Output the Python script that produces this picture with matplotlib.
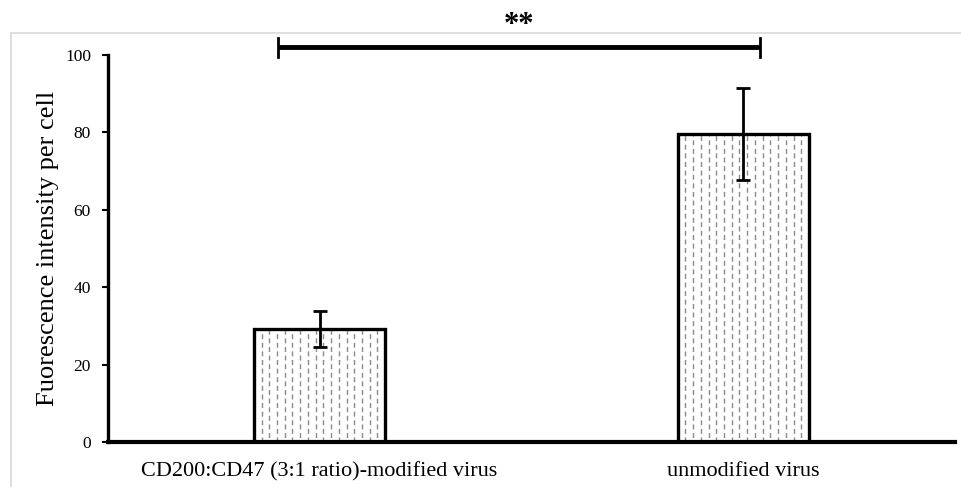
import numpy as np
import matplotlib.pyplot as plt
from matplotlib.lines import Line2D

# data
groups = ["CD200:CD47 (3:1 ratio)-modified virus", "unmodified virus"]
means = [29.2, 79.6]
errors = [4.6, 11.9]
yticks = [0, 20, 40, 60, 80, 100]
sig_label = "**"

plt.rcParams["font.family"] = ["Liberation Serif", "DejaVu Serif"]

fig = plt.figure(figsize=(9.61, 4.87), dpi=100)
ax = fig.add_axes([0.112, 0.092, 0.882, 0.795])

x = np.arange(len(groups))
bar_w = 0.31
# white fill first, then the dashed pattern, then the outline on top
ax.bar(x, means, width=bar_w, color="white", edgecolor="none", zorder=1)
for xi, h in zip(x, means):
    cols = np.linspace(xi - bar_w / 2, xi + bar_w / 2, 18)[1:-1]
    for k, cx in enumerate(cols):
        off = 0 if k % 2 == 0 else 3.0
        ax.plot([cx, cx], [0, h], color="#8a8a8a", lw=1.0,
                linestyle=(off, (3.6, 2.6)), dash_capstyle="butt", zorder=2)
ax.bar(x, means, width=bar_w, fill=False, edgecolor="black", linewidth=2.4, zorder=3)

ax.errorbar(x, means, yerr=errors, fmt="none", ecolor="black", elinewidth=2,
            capsize=5, capthick=2, zorder=4)

ax.set_xlim(-0.5, 1.5)
ax.set_ylim(0, 100)
ax.set_yticks(yticks)
ax.set_xticks(x)
ax.set_xticklabels(groups, fontsize=16)
ax.tick_params(axis="x", length=0, pad=14)
ax.tick_params(axis="y", labelsize=12.5, length=4, width=1.5, pad=8)
ax.set_ylabel("Fuorescence intensity per cell", fontsize=19, labelpad=4)

for s in ["top", "right"]:
    ax.spines[s].set_visible(False)
ax.spines["left"].set_linewidth(2.4)
ax.spines["bottom"].set_linewidth(3)

# significance bracket
bx0, bx1, by = -0.099, 1.04, 102
ax.plot([bx0, bx1], [by, by], color="black", lw=3.5, clip_on=False, solid_capstyle="butt")
ax.plot([bx0, bx0], [by - 2.5, by + 2.5], color="black", lw=2, clip_on=False)
ax.plot([bx1, bx1], [by - 2.5, by + 2.5], color="black", lw=2, clip_on=False)
ax.text((bx0 + bx1) / 2, by + 2.0, sig_label, ha="center", va="bottom",
        fontsize=22, fontweight="bold", clip_on=False)

# light frame around the figure panel
fig.add_artist(Line2D([11 / 961, 11 / 961], [0, 1 - 33 / 487], color="#d9d9d9", lw=1.2))
fig.add_artist(Line2D([11 / 961, 1], [1 - 33 / 487, 1 - 33 / 487], color="#d9d9d9", lw=1.2))

fig.savefig("out.png", dpi=100)
